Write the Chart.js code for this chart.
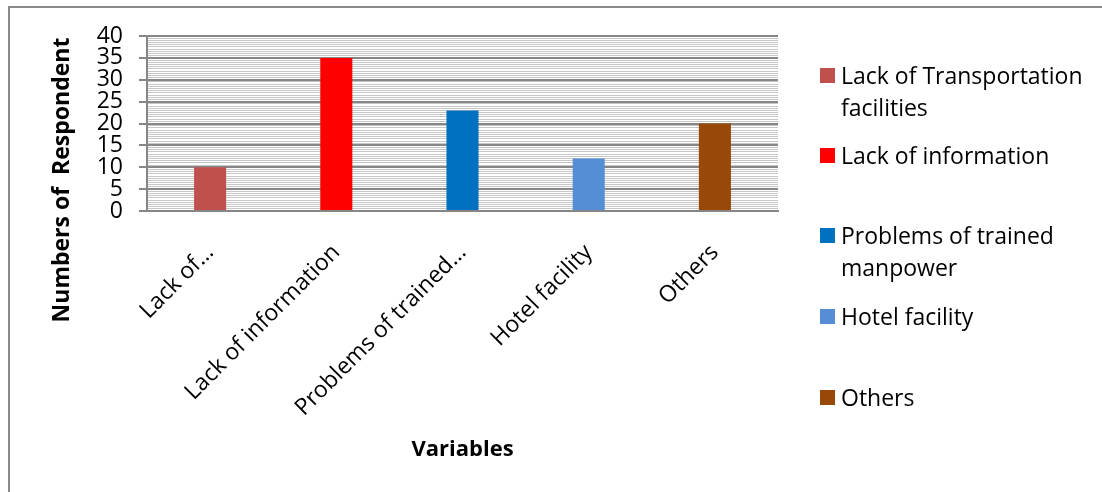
<!DOCTYPE html>
<html>
<head>
<meta charset="utf-8">
<title>Problems faced by respondents</title>
<script src="https://cdn.jsdelivr.net/npm/chart.js@4.4.1/dist/chart.umd.min.js"></script>
<style>
  body { margin: 0; background: #fff; font-family: "Open Sans", sans-serif; }
  #wrap { position: relative; width: 1102px; height: 492px; overflow: hidden; }
  #frame { position: absolute; left: 8px; top: 6px; right: -10px; bottom: -10px;
           border-top: 2px solid #898989; border-left: 2px solid #898989; }
  #chart { position: absolute; left: 0; top: 0; }
  .item { position: absolute; left: 820px; width: 280px; }
  .item .box { position: absolute; left: 0; top: 9px; width: 15px; height: 15px; }
  .item .txt { position: absolute; left: 21px; width: 262px; font-size: 23px; line-height: 32px; color: #000; }
</style>
</head>
<body>
<div id="wrap">
  <div id="frame"></div>
  <canvas id="chart" width="1102" height="492"></canvas>
  <div id="legend"></div>
</div>
<script>
// categories, short tick labels and values
const categories = ['Lack of Transportation facilities', 'Lack of information',
  'Problems of trained manpower', 'Hotel facility', 'Others'];
const tickLabels = ['Lack of…', 'Lack of information', 'Problems of trained…',
  'Hotel facility', 'Others'];
const respondents = [10, 35, 23, 12, 20];
const barColors = ['#C0504D', '#FF0000', '#0070C0', '#558ED5', '#984807'];

// top of each legend entry (px)
const legendTops = [59, 139, 219, 300, 381];

const FONT = '"Open Sans", sans-serif';

// vertical axis title, placed lower than the plot centre
const yTitle = {
  id: 'yTitle',
  afterDraw(chart) {
    const c = chart.ctx;
    c.save();
    c.translate(62, 180);
    c.rotate(-Math.PI / 2);
    c.font = 'bold 23px ' + FONT;
    c.fillStyle = '#000';
    c.textAlign = 'center';
    c.textBaseline = 'middle';
    c.fillText('Numbers of  Respondent', 0, 0);
    c.restore();
  }
};

const major = v => v % 5 === 0;

new Chart(document.getElementById('chart'), {
  type: 'bar',
  data: {
    labels: tickLabels,
    datasets: [{
      data: respondents,
      backgroundColor: barColors,
      borderWidth: 0,
      categoryPercentage: 1,
      barPercentage: 0.254
    }]
  },
  options: {
    responsive: false,
    animation: false,
    layout: { padding: { top: 36, right: 324, left: 0, bottom: 0 } },
    plugins: {
      legend: { display: false },
      tooltip: { enabled: false }
    },
    scales: {
      x: {
        grid: { display: false, drawTicks: false },
        border: { color: '#868686', width: 2 },
        ticks: {
          autoSkip: false, maxRotation: 45, minRotation: 45,
          padding: 28, color: '#000', font: { family: FONT, size: 23 }
        },
        title: {
          display: true, text: 'Variables', color: '#000',
          font: { family: FONT, size: 22, weight: 'bold' },
          padding: { top: 0, bottom: 29 }
        },
        afterFit: s => { s.height = 281; }
      },
      y: {
        min: 0, max: 40,
        ticks: {
          stepSize: 0.5, autoSkip: false, padding: 16,
          color: '#000', font: { family: FONT, size: 23 },
          callback: v => major(v) ? v : ''
        },
        grid: {
          color: c => major(c.tick.value) ? '#868686' : '#C6C6C6',
          lineWidth: c => major(c.tick.value) ? 2 : 1,
          tickColor: c => major(c.tick.value) ? '#868686' : 'rgba(0,0,0,0)',
          tickLength: 8
        },
        border: { color: '#868686', width: 2 },
        afterFit: s => { s.width = 147; }
      }
    }
  },
  plugins: [yTitle]
});

// legend entries on the right
const legend = document.getElementById('legend');
categories.forEach((name, i) => {
  const item = document.createElement('div');
  item.className = 'item';
  item.style.top = legendTops[i] + 'px';
  const box = document.createElement('div');
  box.className = 'box';
  box.style.background = barColors[i];
  const txt = document.createElement('div');
  txt.className = 'txt';
  txt.textContent = name;
  item.appendChild(box);
  item.appendChild(txt);
  legend.appendChild(item);
});
</script>
</body>
</html>
